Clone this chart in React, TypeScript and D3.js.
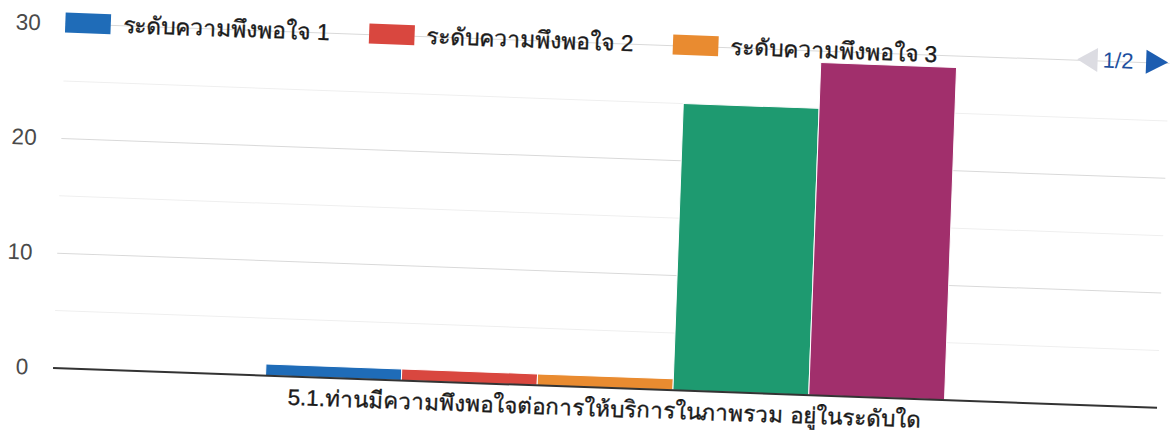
import React from "react";
import * as d3 from "d3";

const categories = ["5.1.ท่านมีความพึงพอใจต่อการให้บริการในภาพรวม อยู่ในระดับใด"];
const seriesNames = [
  "ระดับความพึงพอใจ 1",
  "ระดับความพึงพอใจ 2",
  "ระดับความพึงพอใจ 3",
  "ระดับความพึงพอใจ 4",
  "ระดับความพึงพอใจ 5",
];
const seriesValues = [1, 1, 1, 25, 29];
const seriesColors = ["#1f6cb8", "#d9473f", "#e98b30", "#1e9a70", "#a12f6c"];
const yTicks = [0, 10, 20, 30];
const yMinorTicks = [5, 15, 25];
const legendPageItems = 3;
const pagerText = "1/2";

const W = 1170;
const H = 443;
const FONT = "Arial, 'Liberation Sans', 'Noto Sans', sans-serif";

export default function App() {
  const left = 58.7;
  const right = 1163.4;
  const y = d3.scaleLinear().domain([0, 30]).range([387, 42.6]);
  const x0 = d3
    .scaleBand<string>()
    .domain(categories)
    .range([left, right])
    .paddingInner(0)
    .paddingOuter(0.313);
  const x1 = d3
    .scaleBand<string>()
    .domain(seriesNames)
    .range([0, x0.bandwidth()]);

  const legendX = d3
    .scaleLinear()
    .domain([0, 1])
    .range([58.5, 58.5 + 304]);
  const legendY = 41.5;

  return (
    <svg
      width={W}
      height={H}
      style={{ position: "absolute", left: 0, top: 0, background: "#fff" }}
      fontFamily={FONT}
    >
      <rect x={0} y={0} width={W} height={H} fill="#fff" />
      <g transform="rotate(2.07 585 221)">
        {/* minor gridlines */}
        {yMinorTicks.map((t) => (
          <line
            key={"m" + t}
            x1={left}
            x2={right}
            y1={y(t)}
            y2={y(t)}
            stroke="#efefef"
            strokeWidth={1}
          />
        ))}
        {/* major gridlines */}
        {yTicks
          .filter((t) => t !== 0)
          .map((t) => (
            <line
              key={"g" + t}
              x1={left}
              x2={right}
              y1={y(t)}
              y2={y(t)}
              stroke="#d9d9d9"
              strokeWidth={1}
            />
          ))}
        {/* y tick labels */}
        {yTicks.map((t) => (
          <text
            key={"t" + t}
            x={34}
            y={y(t)}
            textAnchor="end"
            dominantBaseline="central"
            fontSize={22.5}
            fill="#4a4a4a"
          >
            {t}
          </text>
        ))}
        {/* bars */}
        {categories.map((c) => (
          <g key={c} transform={`translate(${x0(c)},0)`}>
            {seriesNames.map((s, i) => (
              <rect
                key={s}
                x={x1(s)}
                y={y(seriesValues[i])}
                width={x1.bandwidth()}
                height={y(0) - y(seriesValues[i])}
                fill={seriesColors[i]}
                stroke="#fff"
                strokeWidth={1}
              />
            ))}
          </g>
        ))}
        {/* baseline */}
        <line
          x1={left}
          x2={right}
          y1={y(0)}
          y2={y(0)}
          stroke="#333"
          strokeWidth={2}
        />
        {/* category label */}
        {categories.map((c) => (
          <text
            key={"c" + c}
            x={(x0(c) as number) + x0.bandwidth() / 2}
            y={408}
            textAnchor="middle"
            dominantBaseline="central"
            fontSize={22.4}
            fill="#1a1a1a"
            stroke="#1a1a1a"
            strokeWidth={0.35}
          >
            {c}
          </text>
        ))}
        {/* legend */}
        {seriesNames.slice(0, legendPageItems).map((s, i) => (
          <g key={"l" + s} transform={`translate(${legendX(i)},${legendY})`}>
            <rect x={0} y={-10} width={45.5} height={20} fill={seriesColors[i]} />
            <text
              x={57.5}
              y={0}
              dominantBaseline="central"
              fontSize={22.8}
              fill="#1a1a1a"
              stroke="#1a1a1a"
              strokeWidth={0.35}
            >
              {s}
            </text>
          </g>
        ))}
        {/* pager */}
        <path
          d={`M${1091.5},${legendY - 12} L${1071},${legendY} L${1091.5},${legendY + 12} Z`}
          fill="#dcdce2"
        />
        <text
          x={1112}
          y={legendY}
          textAnchor="middle"
          dominantBaseline="central"
          fontSize={22}
          fill="#1d4f9e"
        >
          {pagerText}
        </text>
        <path
          d={`M${1140},${legendY - 12} L${1162},${legendY} L${1140},${legendY + 12} Z`}
          fill="#1d5db0"
        />
      </g>
    </svg>
  );
}
